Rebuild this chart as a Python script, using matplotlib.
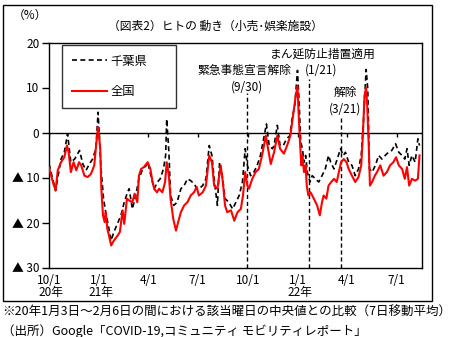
import numpy as np
import pandas as pd
import matplotlib
matplotlib.use('Agg')
import matplotlib.pyplot as plt
import matplotlib.transforms as mtransforms
from matplotlib.patches import Rectangle

plt.rcParams['font.family'] = ['Noto Sans CJK JP', 'DejaVu Sans']

# 全国 (red)
zenkoku_dates = [
    '2020-10-01', '2020-10-08', '2020-10-13', '2020-10-17', '2020-10-23', '2020-10-29',
    '2020-11-03', '2020-11-06', '2020-11-10', '2020-11-15', '2020-11-20', '2020-11-25',
    '2020-11-29', '2020-12-05', '2020-12-11', '2020-12-17', '2020-12-23', '2020-12-27',
    '2020-12-30', '2021-01-03', '2021-01-05', '2021-01-08', '2021-01-11', '2021-01-13',
    '2021-01-16', '2021-01-19', '2021-01-23', '2021-01-28', '2021-02-04', '2021-02-08',
    '2021-02-13', '2021-02-16', '2021-02-21', '2021-02-25', '2021-03-03', '2021-03-07',
    '2021-03-12', '2021-03-15', '2021-03-19', '2021-03-24', '2021-03-31', '2021-04-05',
    '2021-04-09', '2021-04-12', '2021-04-17', '2021-04-21', '2021-04-27', '2021-05-02',
    '2021-05-05', '2021-05-09', '2021-05-12', '2021-05-17', '2021-05-22', '2021-05-26',
    '2021-05-31', '2021-06-06', '2021-06-12', '2021-06-18', '2021-06-24', '2021-06-29',
    '2021-07-03', '2021-07-10', '2021-07-16', '2021-07-22', '2021-07-27', '2021-07-31',
    '2021-08-06', '2021-08-12', '2021-08-16', '2021-08-20', '2021-08-24', '2021-08-31',
    '2021-09-06', '2021-09-12', '2021-09-18', '2021-09-22', '2021-09-26', '2021-09-30',
    '2021-10-03', '2021-10-09', '2021-10-15', '2021-10-21', '2021-10-27', '2021-11-03',
    '2021-11-07', '2021-11-12', '2021-11-18', '2021-11-24', '2021-11-29', '2021-12-06',
    '2021-12-12', '2021-12-18', '2021-12-23', '2021-12-27', '2021-12-31', '2022-01-02',
    '2022-01-04', '2022-01-07', '2022-01-09', '2022-01-12', '2022-01-15', '2022-01-17',
    '2022-01-20', '2022-01-24', '2022-01-30', '2022-02-05', '2022-02-10', '2022-02-14',
    '2022-02-17', '2022-02-22', '2022-02-26', '2022-03-03', '2022-03-08', '2022-03-13',
    '2022-03-17', '2022-03-21', '2022-03-26', '2022-03-31', '2022-04-04', '2022-04-10',
    '2022-04-16', '2022-04-22', '2022-04-27', '2022-04-30', '2022-05-03', '2022-05-06',
    '2022-05-08', '2022-05-11', '2022-05-13', '2022-05-17', '2022-05-22', '2022-05-26',
    '2022-06-01', '2022-06-07', '2022-06-13', '2022-06-19', '2022-06-25', '2022-06-30',
    '2022-07-05', '2022-07-11', '2022-07-16', '2022-07-20', '2022-07-24', '2022-07-29',
    '2022-08-04', '2022-08-09', '2022-08-12',
]
zenkoku = [
    -7.8, -11.0, -12.9, -8.4, -6.6, -5.5,
    -2.9, -4.4, -8.8, -6.6, -8.4, -6.6,
    -7.3, -9.6, -9.9, -9.2, -7.3, -2.1,
    1.2, -3.6, -12.5, -18.4, -19.9, -17.7,
    -21.4, -22.9, -25.1, -24.0, -22.9, -22.1,
    -17.3, -20.3, -14.7, -15.1, -15.5, -13.6,
    -15.5, -9.6, -8.1, -7.7, -6.6, -8.1,
    -11.0, -12.5, -13.3, -12.5, -13.3, -11.0,
    -6.6, -9.6, -14.7, -19.2, -21.8, -19.9,
    -17.7, -16.2, -15.5, -14.0, -13.3, -12.1,
    -14.0, -13.3, -11.8, -5.1, -6.6, -11.8,
    -12.5, -7.3, -11.0, -16.2, -17.7, -17.3,
    -19.6, -17.7, -17.0, -14.0, -8.8, -11.8,
    -12.5, -10.3, -8.8, -8.1, -5.1, -0.7,
    -3.6, -7.0, -4.4, -0.7, -3.6, -4.7,
    -2.9, -0.7, 3.8, 7.5, 10.3, 4.5,
    -0.7, -7.3, -5.1, -8.8, -7.3, -11.8,
    -14.0, -13.3, -14.7, -16.2, -18.4, -15.5,
    -14.0, -14.7, -11.8, -11.0, -10.3, -11.0,
    -8.8, -6.6, -5.9, -6.6, -8.1, -9.6,
    -11.0, -9.9, -7.3, -0.7, 8.2, 10.0,
    6.0, -3.6, -11.8, -11.0, -9.6, -8.8,
    -7.3, -9.6, -8.8, -7.3, -6.6, -5.5,
    -7.3, -8.1, -10.3, -7.7, -11.8, -10.3,
    -10.7, -10.3, -5.1,
]

# 千葉県 (black dashed)
chiba_dates = [
    '2020-10-01', '2020-10-13', '2020-10-23', '2020-10-29', '2020-11-04', '2020-11-10',
    '2020-11-17', '2020-11-26', '2020-12-02', '2020-12-08', '2020-12-14', '2020-12-20',
    '2020-12-26', '2020-12-30', '2021-01-04', '2021-01-09', '2021-01-13', '2021-01-19',
    '2021-01-23', '2021-01-28', '2021-02-02', '2021-02-10', '2021-02-16', '2021-02-22',
    '2021-02-25', '2021-03-03', '2021-03-09', '2021-03-15', '2021-03-22', '2021-03-28',
    '2021-03-31', '2021-04-06', '2021-04-12', '2021-04-18', '2021-04-23', '2021-04-29',
    '2021-05-03', '2021-05-05', '2021-05-09', '2021-05-12', '2021-05-18', '2021-05-24',
    '2021-05-31', '2021-06-06', '2021-06-12', '2021-06-18', '2021-06-24', '2021-06-30',
    '2021-07-03', '2021-07-10', '2021-07-16', '2021-07-22', '2021-07-27', '2021-07-31',
    '2021-08-06', '2021-08-10', '2021-08-15', '2021-08-20', '2021-08-27', '2021-09-03',
    '2021-09-09', '2021-09-15', '2021-09-21', '2021-09-26', '2021-09-30', '2021-10-06',
    '2021-10-12', '2021-10-18', '2021-10-24', '2021-10-31', '2021-11-04', '2021-11-09',
    '2021-11-15', '2021-11-18', '2021-11-24', '2021-11-29', '2021-12-05', '2021-12-11',
    '2021-12-17', '2021-12-21', '2021-12-26', '2021-12-31', '2022-01-03', '2022-01-06',
    '2022-01-09', '2022-01-12', '2022-01-15', '2022-01-18', '2022-01-23', '2022-01-27',
    '2022-02-02', '2022-02-08', '2022-02-14', '2022-02-20', '2022-02-26', '2022-03-02',
    '2022-03-08', '2022-03-14', '2022-03-20', '2022-03-25', '2022-03-29', '2022-04-04',
    '2022-04-10', '2022-04-16', '2022-04-22', '2022-04-27', '2022-05-01', '2022-05-06',
    '2022-05-09', '2022-05-12', '2022-05-17', '2022-05-23', '2022-05-29', '2022-06-04',
    '2022-06-10', '2022-06-16', '2022-06-22', '2022-06-29', '2022-07-05', '2022-07-11',
    '2022-07-16', '2022-07-20', '2022-07-24', '2022-07-29', '2022-08-04', '2022-08-09',
    '2022-08-12',
]
chiba = [
    -7.0, -12.9, -5.9, -4.4, -0.3, -6.6,
    -5.9, -4.0, -7.0, -8.4, -7.0, -5.9,
    -3.6, 4.5, -7.3, -14.7, -17.7, -21.4,
    -24.0, -22.1, -20.7, -18.4, -15.5, -13.3,
    -12.5, -17.0, -14.0, -10.3, -8.1, -7.4,
    -6.6, -9.6, -12.5, -11.0, -10.3, -8.1,
    -5.1, 3.0, -4.4, -14.0, -16.2, -15.5,
    -12.5, -11.8, -10.3, -10.7, -11.4, -12.5,
    -12.5, -11.8, -10.3, -2.9, -5.1, -10.3,
    -16.2, -6.6, -9.6, -14.7, -15.5, -17.0,
    -15.5, -14.0, -11.0, -3.6, -7.3, -9.6,
    -8.8, -7.3, -5.1, -0.7, 1.9, -2.9,
    -3.6, -2.9, 1.6, -2.9, -2.9, -1.4,
    -0.7, 3.0, 6.0, 13.8, 6.7, -2.1,
    -3.6, -6.6, -5.1, -8.8, -11.0, -9.6,
    -10.3, -11.0, -9.6, -8.1, -5.1, -6.6,
    -8.1, -5.9, -3.6, -5.1, -4.4, -6.6,
    -7.3, -9.6, -8.1, -5.1, 2.3, 14.0,
    9.7, -8.1, -8.8, -7.3, -5.1, -5.9,
    -5.1, -4.4, -4.0, -2.5, -4.4, -5.1,
    -5.9, -3.6, -7.3, -5.1, -6.6, -1.4,
    -2.9,
]

tick_dates = ['2020-10-01', '2021-01-01', '2021-04-01', '2021-07-01',
              '2021-10-01', '2022-01-01', '2022-04-01', '2022-07-01']
tick_labels = ['10/1', '1/1', '4/1', '7/1', '10/1', '1/1', '4/1', '7/1']
year_dates = ['2020-10-01', '2021-01-01', '2022-01-01']
year_labels = ['20年', '21年', '22年']
y_ticks = [-30, -20, -10, 0, 10, 20]
y_labels = ['▲ 30', '▲ 20', '▲ 10', '0', '10', '20']

event_dates = ['2021-09-30', '2022-01-21', '2022-03-21']
event_tops = [8.7, 12.0, 3.3]
event_names = ['緊急事態宣言解除', 'まん延防止措置適用', '解除']
event_days = ['(9/30)', '(1/21)', '(3/21)']

fig = plt.figure(figsize=(4.51, 3.37), dpi=100)
W, H = 451, 337
ax = fig.add_axes([48.5 / W, (H - 267.5) / H, 373.2 / W, 225 / H])

zd = pd.to_datetime(zenkoku_dates)
cd = pd.to_datetime(chiba_dates)
ax.plot(cd, chiba, color='black', lw=1.2, linestyle=(0, (3, 2)), label='千葉県', zorder=3)
ax.plot(zd, zenkoku, color='#ff0000', lw=1.5, label='全国', zorder=4)

ax.axhline(0, color='black', lw=1, zorder=2)
td = pd.to_datetime(tick_dates)
ax.vlines(td, -0.9, 0, color='black', lw=1, zorder=2)

# event lines and labels
name_off = [-5, 25, 8]
day_off = [-1, 22, 7]
name_y = [13.8, 17.5, 9.0]
day_y = [10.0, 13.8, 5.3]
for i, d in enumerate(pd.to_datetime(event_dates)):
    ax.vlines(d, -30, event_tops[i], color='black', lw=1, linestyle=(0, (3, 2)), zorder=2)
    ax.text(d + pd.Timedelta(days=name_off[i]), name_y[i], event_names[i],
            ha='center', va='center', fontsize=8.5)
    ax.text(d + pd.Timedelta(days=day_off[i]), day_y[i], event_days[i],
            ha='center', va='center', fontsize=8.5)

ax.set_xlim(pd.Timestamp('2020-09-30'), pd.Timestamp('2022-08-16'))
ax.set_ylim(-30, 20)
ax.set_yticks(y_ticks)
ax.set_yticklabels(y_labels, fontsize=8.5)
ax.set_xticks(td)
ax.set_xticklabels(tick_labels, fontsize=8.5)
ax.tick_params(axis='x', length=0, pad=5)
ax.tick_params(axis='y', direction='out', length=5, width=1, pad=1.5)
for s in ax.spines.values():
    s.set_color('black')
    s.set_linewidth(1)

trans = mtransforms.blended_transform_factory(ax.transData, ax.transAxes)
for d, lab in zip(pd.to_datetime(year_dates), year_labels):
    ax.text(d + pd.Timedelta(days=3), -0.113, lab, transform=trans,
            ha='center', va='center', fontsize=8.5)

leg = ax.legend(loc='upper left', bbox_to_anchor=(0.036, 0.718, 0.306, 0.271),
                mode='expand', fontsize=8.8, frameon=True, fancybox=False,
                borderpad=0.8, labelspacing=1.4, handlelength=2.9,
                handletextpad=0.3, borderaxespad=0)
leg.get_frame().set_edgecolor('black')
leg.get_frame().set_linewidth(1)

fig.text(215 / W, 1 - 26 / H, '（図表2）ヒトの 動き（小売･娯楽施設）',
         ha='center', va='center', fontsize=8.5)
fig.text(30 / W, 1 - 15 / H, '（%）', ha='center', va='center', fontsize=8.5)
fig.text(2 / W, 1 - 312 / H,
         '※20年1月3日～2月6日の間における該当曜日の中央値との比較（7日移動平均）',
         ha='left', va='center', fontsize=9.0)
fig.text(2 / W, 1 - 331 / H,
         '（出所）Google「COVID-19,コミュニティ モビリティレポート」',
         ha='left', va='center', fontsize=9.0)

fig.add_artist(Rectangle((3 / W, (H - 301) / H), 429 / W, 296 / H,
                         transform=fig.transFigure, fill=False, ec='black', lw=1))

fig.savefig('out.png', dpi=100)
